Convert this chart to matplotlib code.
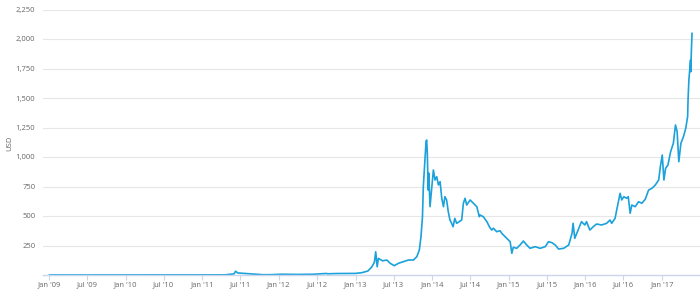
import matplotlib
matplotlib.use('Agg')
import matplotlib.pyplot as plt
import matplotlib.dates as mdates
import numpy as np
from datetime import datetime

# price points (USD)
dates = ['2009-01-03', '2010-07-18', '2010-11-06', '2011-02-10', '2011-04-20',
         '2011-05-20', '2011-06-02', '2011-06-09', '2011-06-20', '2011-07-15',
         '2011-08-15', '2011-10-20', '2011-12-01', '2012-01-10', '2012-04-01',
         '2012-06-15', '2012-08-16', '2012-08-20', '2012-10-01', '2013-01-01',
         '2013-02-01', '2013-03-01', '2013-03-20', '2013-04-01', '2013-04-07',
         '2013-04-14', '2013-04-20', '2013-05-10', '2013-05-30', '2013-06-15',
         '2013-07-05', '2013-07-24', '2013-08-17', '2013-09-10', '2013-10-04',
         '2013-10-20', '2013-11-01', '2013-11-09', '2013-11-16', '2013-11-20',
         '2013-11-28', '2013-12-03', '2013-12-06', '2013-12-09', '2013-12-13',
         '2013-12-16', '2013-12-22', '2014-01-07', '2014-01-15', '2014-01-23',
         '2014-01-31', '2014-02-08', '2014-02-16', '2014-02-24', '2014-03-03',
         '2014-03-11', '2014-03-19', '2014-03-27', '2014-04-04', '2014-04-11',
         '2014-04-19', '2014-04-28', '2014-05-22', '2014-05-30', '2014-06-07',
         '2014-06-15', '2014-07-01', '2014-07-17', '2014-08-02', '2014-08-14',
         '2014-08-18', '2014-09-02', '2014-09-19', '2014-10-01', '2014-10-12',
         '2014-10-20', '2014-11-05', '2014-11-21', '2014-11-29', '2014-12-15',
         '2014-12-31', '2015-01-08', '2015-01-16', '2015-01-23', '2015-02-08',
         '2015-02-24', '2015-03-12', '2015-03-28', '2015-04-13', '2015-05-07',
         '2015-05-31', '2015-06-24', '2015-07-10', '2015-07-26', '2015-08-11',
         '2015-08-27', '2015-09-20', '2015-10-14', '2015-10-30', '2015-11-04',
         '2015-11-12', '2015-11-28', '2015-12-14', '2015-12-30', '2016-01-07',
         '2016-01-23', '2016-02-08', '2016-02-24', '2016-03-19', '2016-04-12',
         '2016-04-28', '2016-05-06', '2016-05-22', '2016-06-02', '2016-06-15',
         '2016-06-23', '2016-07-03', '2016-07-16', '2016-07-24', '2016-08-02',
         '2016-08-10', '2016-08-26', '2016-09-11', '2016-09-27', '2016-10-13',
         '2016-10-29', '2016-11-14', '2016-11-30', '2016-12-16', '2016-12-24',
         '2017-01-02', '2017-01-10', '2017-01-18', '2017-01-29', '2017-02-11',
         '2017-02-24', '2017-03-06', '2017-03-14', '2017-03-22', '2017-04-01',
         '2017-04-13', '2017-04-24', '2017-05-03', '2017-05-05', '2017-05-09',
         '2017-05-14', '2017-05-17', '2017-05-18', '2017-05-21', '2017-05-24']
prices = [0, 0.09, 0.4, 1.0, 1.2,
          7, 10, 32, 17, 14,
          10, 2.3, 3, 6.5, 4.9,
          6.5, 13, 10, 12.4, 13.5,
          20, 34, 70, 110, 197,
          70, 141, 120, 127, 99,
          79, 99, 113, 127, 127,
          155, 212, 325, 494, 748,
          975, 1130, 1144, 1031, 720,
          864, 579, 890, 805, 833,
          763, 791, 650, 579, 664,
          636, 536, 466, 438, 409,
          480, 438, 466, 608, 650,
          593, 636, 608, 579, 494,
          508, 494, 452, 409, 381,
          396, 367, 375, 353, 325,
          297, 282, 184, 235, 226,
          254, 288, 254, 226, 240,
          226, 240, 282, 274, 254,
          220, 226, 254, 353, 438,
          311, 381, 452, 424, 452,
          381, 409, 432, 424, 438,
          466, 438, 480, 579, 692,
          636, 664, 650, 664, 523,
          593, 579, 621, 608, 642,
          720, 735, 763, 805, 918,
          1017, 805, 904, 932, 1045,
          1116, 1271, 1215, 960, 1116,
          1172, 1243, 1342, 1483, 1653,
          1766, 1822, 1723, 1907, 2048]

yticks = [250, 500, 750, 1000, 1250, 1500, 1750, 2000, 2250]

x = [datetime.strptime(d, '%Y-%m-%d') for d in dates]
xticks = [datetime(y, m, 1) for y in range(2009, 2018) for m in (1, 7)][:-1]

plt.rcParams['font.family'] = ['Open Sans', 'DejaVu Sans']
fig = plt.figure(figsize=(7, 2.94), dpi=100)
ax = fig.add_axes([43/700, 19/294, 657/700, 265.5/294])

ax.plot(x, prices, color='#1ba1db', lw=1.2, solid_joinstyle='round')

ax.set_xlim(datetime(2008, 12, 3), datetime(2017, 7, 1))
ax.set_ylim(0, 2250)
ax.set_yticks(yticks)
ax.set_yticklabels([f'{v:,}' for v in yticks])
ax.yaxis.grid(True, color='#e6e6e6', lw=0.8)
ax.set_axisbelow(True)

ax.set_xticks(xticks)
ax.xaxis.set_major_formatter(mdates.DateFormatter("%b '%y"))

for s in ['top', 'right', 'left']:
    ax.spines[s].set_visible(False)
ax.spines['bottom'].set_color('#ccd6eb')
ax.spines['bottom'].set_linewidth(1.0)

ax.tick_params(axis='y', length=0, pad=5.5, labelsize=5.5, labelcolor='#666666')
ax.tick_params(axis='x', length=3.6, width=0.8, color='#ccd6eb', pad=1.2,
               labelsize=5.5, labelcolor='#666666')

fig.text(10/700, 1 - 143/294, 'USD', rotation=90, ha='center', va='center',
         fontsize=5.5, color='#666666')

fig.savefig('out.png', dpi=100)
